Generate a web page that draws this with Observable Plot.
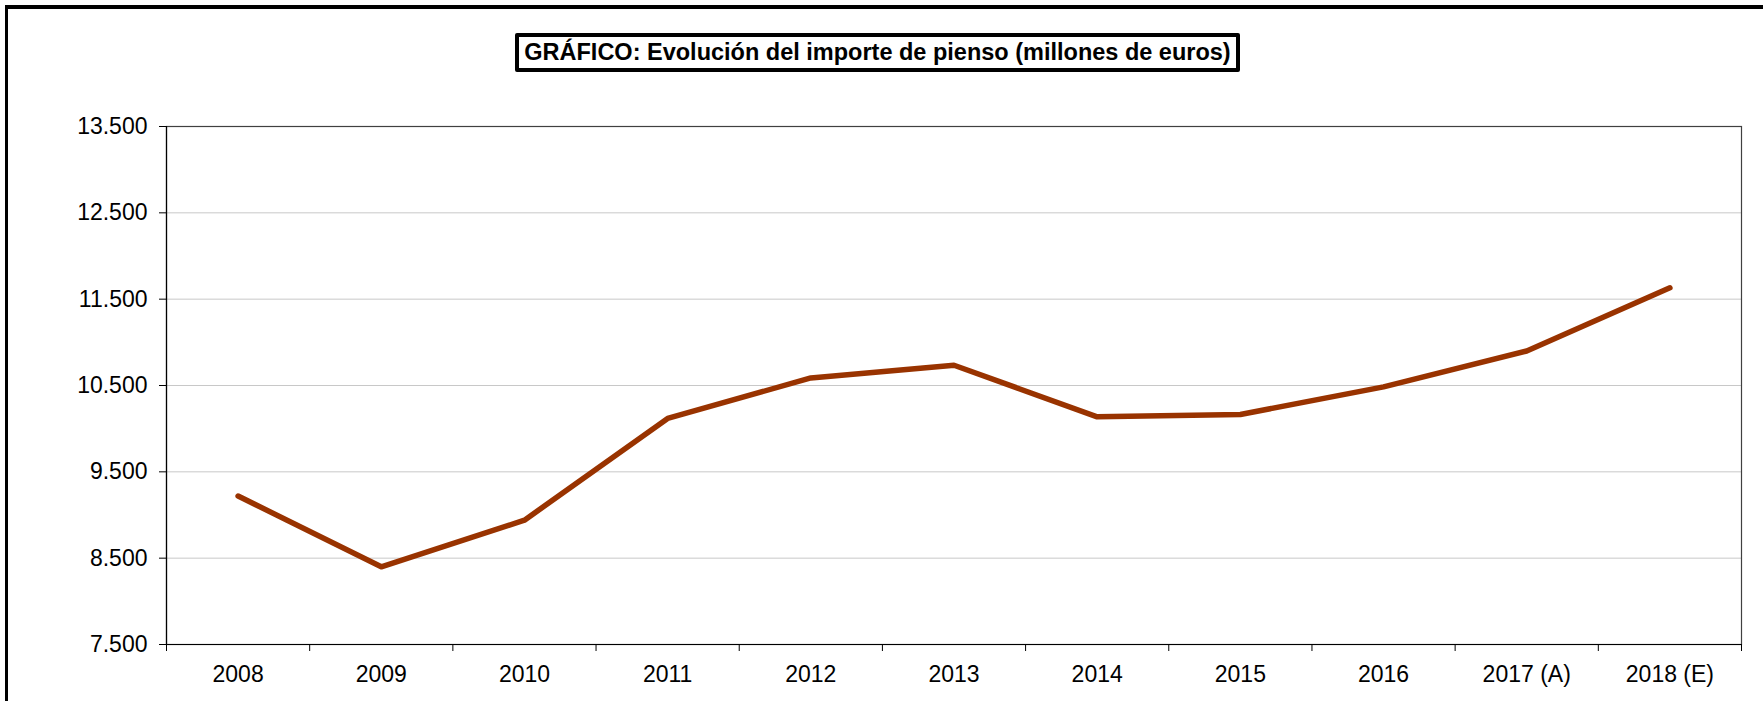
<!DOCTYPE html>
<html><head><meta charset="utf-8">
<script src="https://cdn.jsdelivr.net/npm/d3@7"></script>
<script src="https://cdn.jsdelivr.net/npm/@observablehq/plot@0.6"></script>
<style>
html,body{margin:0;padding:0;background:#fff;overflow:hidden;}
body{width:1763px;height:701px;position:relative;font-family:"Liberation Sans",Arial,sans-serif;}
#frame{position:absolute;left:5px;top:5px;width:1900px;height:900px;border-left:3px solid #000;border-top:4px solid #000;pointer-events:none;}
#header{position:relative;height:80px;}
#title{position:absolute;left:515px;top:33px;width:725px;height:39px;box-sizing:border-box;border:4px solid #000;border-radius:2px;font-weight:bold;font-size:23.5px;line-height:31px;text-align:center;white-space:nowrap;color:#000;}
#chart svg{display:block;}
</style></head>
<body>
<div id="header"><div id="title">GRÁFICO: Evolución del importe de pienso (millones de euros)</div></div>
<div id="chart"></div>
<div id="frame"></div>
<script>
const years = ["2008","2009","2010","2011","2012","2013","2014","2015","2016","2017 (A)","2018 (E)"];
const values = [9220, 8400, 8940, 10118, 10588, 10735, 10137, 10164, 10484, 10900, 11631];
const yTicks = [7500, 8500, 9500, 10500, 11500, 12500, 13500];
const gridTicks = [8500, 9500, 10500, 11500, 12500];

const es = d3.formatLocale({decimal: ",", thousands: ".", grouping: [3], currency: ["", " €"]});
const fmt = es.format(",d");

const data = years.map((y, i) => ({pos: i + 0.5, year: y, value: values[i]}));
const centers = data.map(d => d.pos);
const bounds = d3.range(years.length + 1);

const chart = Plot.plot({
  width: 1763,
  height: 621,
  marginLeft: 166,
  marginRight: 22,
  marginTop: 46,
  marginBottom: 57,
  style: {fontFamily: '"Liberation Sans", Arial, sans-serif', fontSize: "23px", color: "#000", background: "#fff"},
  x: {type: "linear", domain: [0, years.length]},
  y: {domain: [7500, 13500]},
  marks: [
    Plot.gridY(gridTicks, {stroke: "#c8c8c8", strokeOpacity: 1, strokeWidth: 1}),
    Plot.frame({stroke: "#404040", strokeWidth: 1.2}),
    Plot.ruleX([0], {stroke: "#000", strokeWidth: 1.2}),
    Plot.ruleY([7500], {stroke: "#000", strokeWidth: 1.2}),
    Plot.axisY(yTicks, {tickSize: 7, tickPadding: 12, tickFormat: fmt, fontSize: 23, stroke: "#000", label: null}),
    Plot.axisX(bounds, {tickSize: 7, tickFormat: () => "", stroke: "#000", label: null}),
    Plot.axisX(centers, {tickSize: 0, tickPadding: 21, tickFormat: d => years[Math.floor(d)], fontSize: 23, label: null}),
    Plot.line(data, {x: "pos", y: "value", stroke: "#993300", strokeWidth: 5.5, strokeLinejoin: "round", strokeLinecap: "round"})
  ]
});
document.getElementById("chart").appendChild(chart);
</script>
</body></html>
